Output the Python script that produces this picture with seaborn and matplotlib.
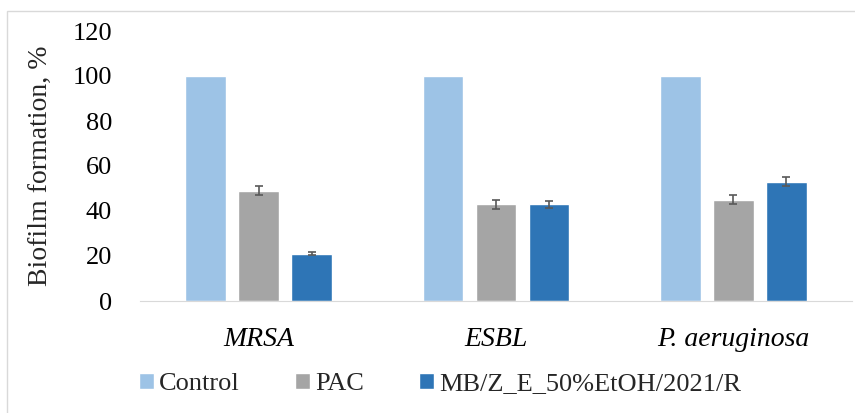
import matplotlib
matplotlib.use("Agg")
import matplotlib.pyplot as plt
import seaborn as sns
import pandas as pd
from matplotlib.patches import Rectangle

categories = ["MRSA", "ESBL", "P. aeruginosa"]
series = ["Control", "PAC", "MB/Z_E_50%EtOH/2021/R"]
control = [100, 100, 100]
pac = [49, 43, 45]
mb = [21, 43, 53]
pac_err = [2, 2, 2]
mb_err = [0.6, 1.5, 2]
control_err = [0, 0, 0]
colors = ["#9DC3E6", "#A5A5A5", "#2E75B6"]

rows = []
for vals, name in [(control, series[0]), (pac, series[1]), (mb, series[2])]:
    for c, v in zip(categories, vals):
        rows.append({"cat": c, "series": name, "value": v})
df = pd.DataFrame(rows)

sns.set_style("white")
plt.rcParams["font.family"] = ["Liberation Serif", "DejaVu Serif"]

fig = plt.figure(figsize=(8.55, 4.13), dpi=100)
fig.patches.append(Rectangle((7 / 855, -0.1), 1.1, 1 - 11 / 413 + 0.1, transform=fig.transFigure,
                             fill=False, edgecolor="#D9D9D9", linewidth=1))
ax = fig.add_axes([140 / 855, 1 - 301 / 413, 712 / 855, 270 / 413])

sns.barplot(data=df, x="cat", y="value", hue="series", order=categories, hue_order=series,
            palette=colors, width=0.67, gap=0.23, ax=ax, legend=True, saturation=1)

errs = [control_err, pac_err, mb_err]
for cont, err in zip(ax.containers, errs):
    xs = [p.get_x() + p.get_width() / 2 for p in cont.patches]
    ys = [p.get_height() for p in cont.patches]
    sel = [(x, y, e) for x, y, e in zip(xs, ys, err) if e > 0]
    if sel:
        ax.errorbar([s[0] for s in sel], [s[1] for s in sel], yerr=[s[2] for s in sel],
                    fmt="none", ecolor="#595959", elinewidth=1.2, capsize=3, capthick=1.2)

ax.set_ylim(0, 120)
ax.set_xlim(-0.5, 2.5)
ax.set_yticks(range(0, 121, 20))
ax.tick_params(axis="both", length=0, colors="black")
ax.tick_params(axis="y", pad=20, labelsize=19)
ax.tick_params(axis="x", pad=19, labelsize=20)
for lbl in ax.get_xticklabels():
    lbl.set_fontstyle("italic")
ax.set_xlabel("")
ax.set_ylabel("Biofilm formation, %", fontsize=20, labelpad=14)
for s in ["top", "right", "left"]:
    ax.spines[s].set_visible(False)
ax.spines["bottom"].set_color("#D9D9D9")

handles, labels = ax.get_legend_handles_labels()
ax.get_legend().remove()
fig.legend(handles, labels, loc="center", bbox_to_anchor=(440 / 855, 1 - 384 / 413), ncol=3,
           frameon=False, fontsize=19, handlelength=0.55, handleheight=0.6, handletextpad=0.2,
           columnspacing=2.1)

fig.savefig("out.png", dpi=100)
